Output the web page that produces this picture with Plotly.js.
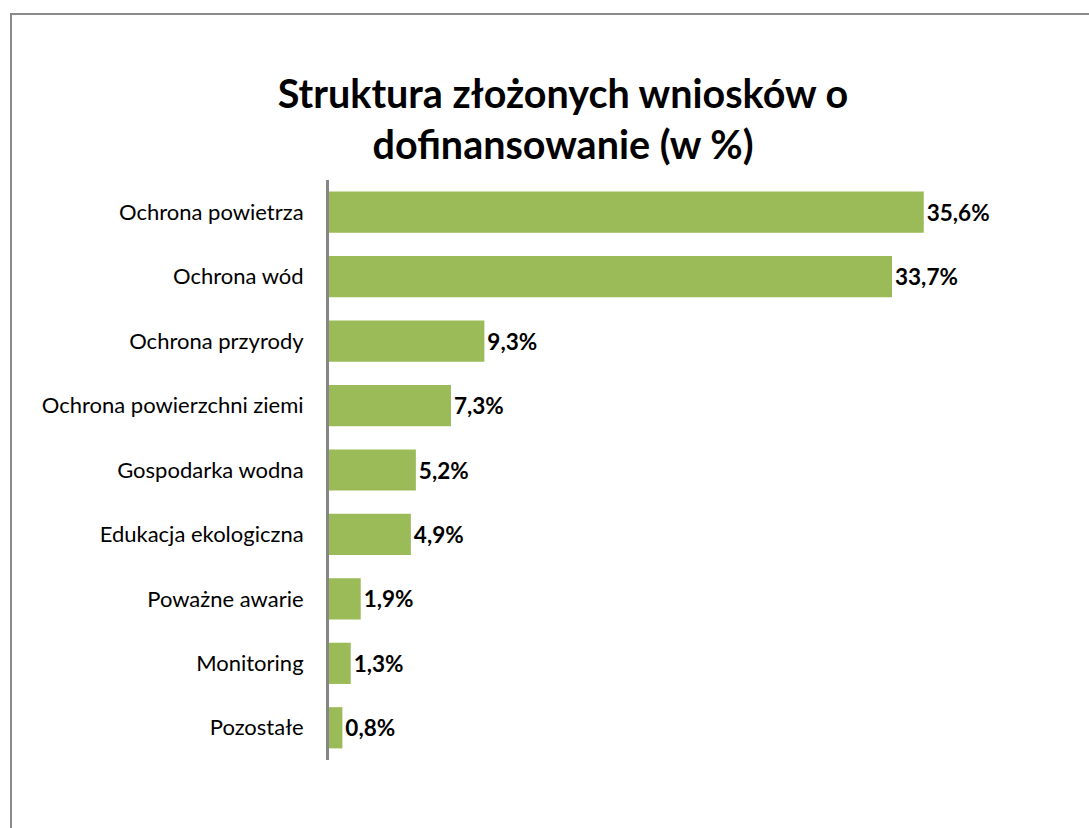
<!DOCTYPE html>
<html>
<head>
<meta charset="utf-8">
<script src="https://cdn.plot.ly/plotly-3.0.1.min.js"></script>
<style>
  html, body { margin: 0; padding: 0; background: #fff; }
  #frame { position: absolute; left: 10px; top: 13px; width: 1079px; height: 815px;
           border-left: 2px solid #8a8a8a; border-top: 2px solid #8a8a8a; box-sizing: border-box; }
  #chart { position: absolute; left: 0; top: 0; width: 1089px; height: 828px; }
</style>
</head>
<body>
<div id="frame"></div>
<div id="chart"></div>
<script>
const categories = [
  "Ochrona powietrza",
  "Ochrona wód",
  "Ochrona przyrody",
  "Ochrona powierzchni ziemi",
  "Gospodarka wodna",
  "Edukacja ekologiczna",
  "Poważne awarie",
  "Monitoring",
  "Pozostałe"
];
const values = [35.6, 33.7, 9.3, 7.3, 5.2, 4.9, 1.9, 1.3, 0.8];
const titleText = "Struktura złożonych wniosków o<br>dofinansowanie (w %)";

const trace = {
  type: "bar",
  orientation: "h",
  y: categories,
  x: values,
  marker: { color: "#9BBB59" },
  width: 0.64,
  texttemplate: "%{x:.1f}%",
  textposition: "outside",
  cliponaxis: false,
  textfont: { family: "Lato, 'Open Sans', sans-serif", size: 22.5, color: "#000", weight: "bold" },
  hoverinfo: "skip"
};

const layout = {
  width: 1089,
  height: 828,
  separators: ", ",
  paper_bgcolor: "rgba(0,0,0,0)",
  plot_bgcolor: "rgba(0,0,0,0)",
  margin: { l: 329, r: 60, t: 180, b: 68 },
  showlegend: false,
  title: {
    text: titleText,
    x: 0.517,
    xanchor: "center",
    y: 0.87,
    yanchor: "top",
    font: { family: "Lato, 'Open Sans', sans-serif", size: 39.5, color: "#000", weight: "bold" }
  },
  xaxis: {
    range: [0, 41.9],
    visible: false,
    fixedrange: true
  },
  yaxis: {
    autorange: "reversed",
    type: "category",
    showline: true,
    linecolor: "#868686",
    linewidth: 3,
    showgrid: false,
    zeroline: false,
    ticks: "",
    ticklabelstandoff: 18,
    tickfont: { family: "Lato, 'Open Sans', sans-serif", size: 22, color: "#000" },
    fixedrange: true
  },
  bargap: 0.36
};

Plotly.newPlot("chart", [trace], layout, { displayModeBar: false, staticPlot: true });
</script>
</body>
</html>
